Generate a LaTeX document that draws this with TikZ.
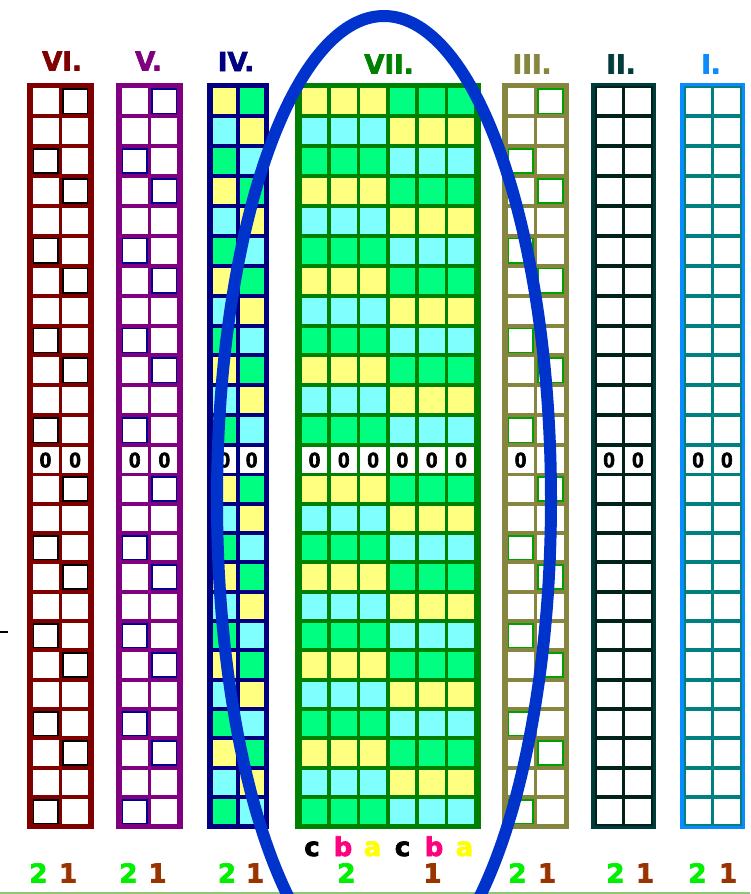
\documentclass[tikz,border=0pt]{standalone}
\usepackage{fontspec}
\setmainfont{DejaVu Sans}
\newfontfamily\heavyfont{DejaVu Sans}[BoldFeatures={FakeBold=2.5}]
\newfontfamily\zerofont{Liberation Sans}[BoldFeatures={FakeBold=3}]
\definecolor{cVI}{HTML}{800000}
\definecolor{cV}{HTML}{800080}
\definecolor{cIV}{HTML}{000080}
\definecolor{cVII}{HTML}{008000}
\definecolor{cIII}{HTML}{868640}
\definecolor{cII}{HTML}{003C3C}
\definecolor{cI}{HTML}{0A8CFF}
\definecolor{cIin}{HTML}{008080}
\definecolor{cIIin}{HTML}{00221A}
\definecolor{cY}{HTML}{FFFF80}
\definecolor{cC}{HTML}{80FFFF}
\definecolor{cG}{HTML}{00FF80}
\definecolor{ringblue}{HTML}{0033CC}
\definecolor{lblgreen}{HTML}{00F000}
\definecolor{lblbrown}{HTML}{993300}
\definecolor{lblpink}{HTML}{FF0080}
\definecolor{lblyellow}{HTML}{FFFF00}
\definecolor{basegreen}{HTML}{8CC873}
\definecolor{cellnavy}{HTML}{000090}
\definecolor{cellgreen}{HTML}{00A000}

\tikzset{
  title/.style={font=\heavyfont\bfseries\fontsize{26}{26}\selectfont, inner sep=0, anchor=base},
  numlbl/.style={font=\heavyfont\bfseries\fontsize{26}{26}\selectfont, inner sep=0, anchor=base},
  letlbl/.style={font=\heavyfont\bfseries\fontsize{26}{26}\selectfont, inner sep=0, anchor=base},
  zero/.style={font=\zerofont\bfseries\fontsize{21}{21}\selectfont, inner sep=0},
}

\def\nonecol{none}
% #1 name, #2 x0, #3 ncells, #4 border, #5 cell width, #6 frame colour,
% #7 inner line colour, #8 pattern (0 white / 1 coloured), #9 outline colour or none
\newcommand\gridcol[9]{%
  \pgfmathsetmacro\gW{2*#4+#3*#5+(#3-1)*3.6}
  \fill[#6] (#2,83.3) rectangle ++(\gW,746);
  \fill[#7] (#2+#4-2,86.3) rectangle ++(\gW-2*#4+4,740);
  \pgfmathtruncatemacro\half{#3/2}
  \def\oc{#9}
  \foreach \r in {1,...,25}{
    \pgfmathsetmacro\yt{\r<14 ? 88.3+(\r-1)*29.9 : 447+(\r-13)*29.33}
    \pgfmathsetmacro\ch{\r<14 ? 25.9 : 25.3}
    \pgfmathtruncatemacro\k{\r<13 ? \r : \r-13}
    \pgfmathtruncatemacro\m{mod(\k,3)}
    \foreach \c in {1,...,#3}{
      \pgfmathsetmacro\xl{#2+#4+(\c-1)*(#5+3.6)}
      \ifnum\r=13\relax
        \fill[white] (\xl,\yt) rectangle ++(#5,\ch);
        \node[zero] (#1-z\c) at (\xl+#5/2,\yt+\ch/2) {0};
      \else
        \ifnum#8=1\relax
          \ifnum\c>\half\relax
            \ifcase\m\relax \def\cf{cC}\or \def\cf{cG}\or \def\cf{cY}\fi
          \else
            \ifcase\m\relax \def\cf{cG}\or \def\cf{cY}\or \def\cf{cC}\fi
          \fi
        \else \def\cf{white}\fi
        \fill[\cf] (\xl,\yt) rectangle ++(#5,\ch);
        \ifx\oc\nonecol\else
          \ifnum\m=1\relax\ifnum\c=2\relax
            \draw[#9, line width=1.6] (\xl+0.8,\yt+0.8) rectangle ++(#5-1.6,\ch-1.6);
          \fi\fi
          \ifnum\m=0\relax\ifnum\c=1\relax
            \draw[#9, line width=1.6] (\xl+0.8,\yt+0.8) rectangle ++(#5-1.6,\ch-1.6);
          \fi\fi
        \fi
      \fi
    }
  }
}

\begin{document}
\begin{tikzpicture}[x=1pt,y=-1pt]
\useasboundingbox (0,0) rectangle (750,894);
\clip (0,0) rectangle (750,894);
\fill[white] (0,0) rectangle (750,894);

% columns
\gridcol{VI}{27}{2}{5.5}{26}{cVI}{cVI}{0}{black}
\gridcol{V}{116.3}{2}{5.5}{26}{cV}{cV}{0}{cellnavy}
\gridcol{IV}{207}{2}{5.5}{23.7}{cIV}{cIV}{1}{none}
\gridcol{VII}{295}{6}{6.7}{25.7}{cVII}{cVII}{1}{none}
\gridcol{III}{502}{2}{5.5}{26.2}{cIII}{cIII}{0}{cellgreen}
\gridcol{II}{591}{2}{5.5}{25.2}{cII}{cIIin}{0}{none}
\gridcol{I}{680}{2}{5.5}{25.2}{cI}{cIin}{0}{none}

% titles
\node[title, text=cVI]  (tVI)  at (62,70.5) {VI.};
\node[title, text=cV]   (tV)   at (148.5,70.5) {V.};
\node[title, text=cIV]  (tIV)  at (236,71) {IV.};
\node[title, text=cVII] (tVII) at (389,73.5) {VII.};
\node[title, text=cIII] (tIII) at (532,73.5) {III.};
\node[title, text=cII]  (tII)  at (621,73.5) {II.};
\node[title, text=cI]   (tI)   at (711,73.5) {I.};

% letters under VII
\node[letlbl] (lc1) at (312,856) {c};
\node[letlbl, text=lblpink] (lb1) at (343,856) {b};
\node[letlbl, text=lblyellow] (la1) at (372.5,856) {a};
\node[letlbl] (lc2) at (402.5,856) {c};
\node[letlbl, text=lblpink] (lb2) at (434,856) {b};
\node[letlbl, text=lblyellow] (la2) at (464.5,856) {a};

% numbers
\foreach \nm/\xa/\xb in {VI/38.5/68, V/128.5/157.5, IV/227/255, III/517.5/547, II/615.5/645, I/697.5/728}{
  \node[numlbl, text=lblgreen] (n2-\nm) at (\xa,882.5) {2};
  \node[numlbl, text=lblbrown] (n1-\nm) at (\xb,882.5) {1};
}
\node[numlbl, text=lblgreen] (n2-VII) at (346.5,882.5) {2};
\node[numlbl, text=lblbrown] (n1-VII) at (432.5,882.5) {1};

% marks
\draw[line width=1.3] (0,632) -- (8,632);
\draw[basegreen, line width=2] (0,893) -- (750,893);

% ring
\draw[ringblue, line width=12] (384,500) ellipse [x radius=167, y radius=484];
\end{tikzpicture}
\end{document}
